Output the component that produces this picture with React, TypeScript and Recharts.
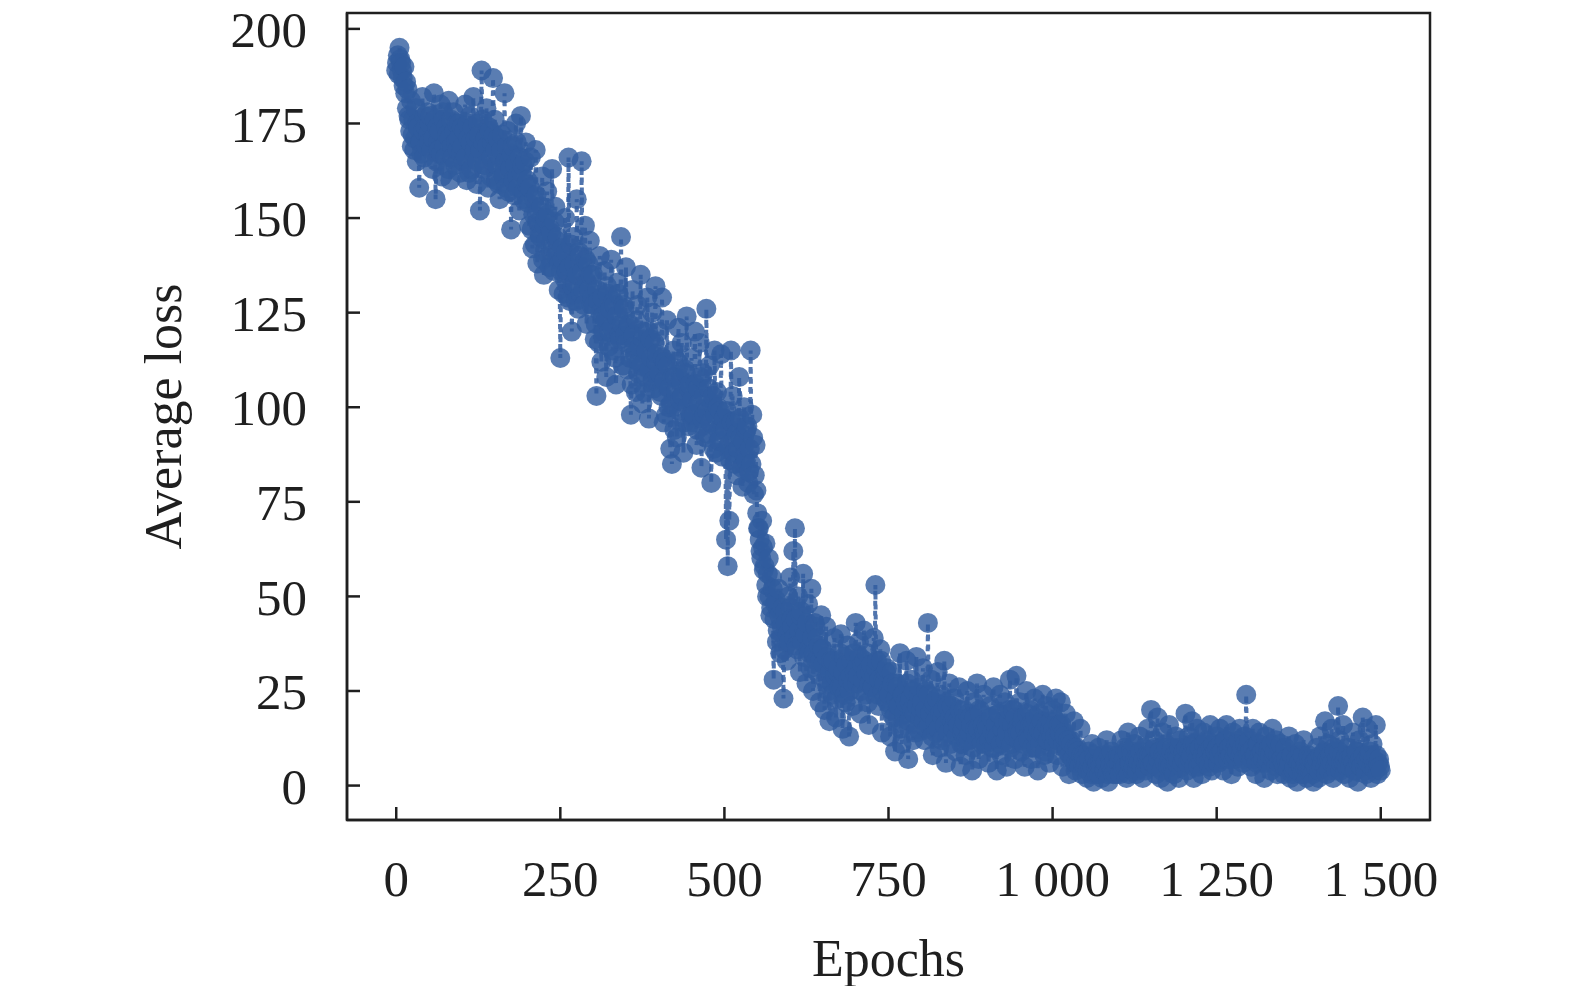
import React from "react";
import {
  ScatterChart,
  Scatter,
  XAxis,
  YAxis,
  ReferenceArea,
} from "recharts";

// average loss: one sample on every 2.5-epoch mark,
// plus a second sample half-way between marks (the cloud is ~1500 points)
const EPOCH_STEP = 2.5;

const lossPlateau = [
  189, 193, 195, 191, 187, 190, 186, 184, 176, 181, 172, 168, 179, 175, 158, 170, 182, 166, 174, 178,
  170, 177, 163, 183, 155, 174, 168, 180, 161, 176, 166, 172, 181, 160, 169, 178, 164, 175, 171, 162,
  174, 165, 180, 160, 171, 177, 163, 182, 168, 159, 175, 152, 189, 170, 164, 179, 158, 173, 166, 187,
  176, 160, 171, 155, 168, 162, 183, 158, 173, 165, 147, 169, 156, 175, 161, 152, 177, 164, 157, 170,
];

const lossDecline = [
  160, 148, 166, 142, 155, 168, 138, 152, 145, 161, 135, 150, 157, 140, 147, 163, 136, 153, 144, 131,
  113, 142, 130, 150, 136, 166, 128, 120, 145, 133, 155, 126, 140, 165, 131, 148, 122, 138, 144, 127,
  135, 118, 103, 128, 140, 112, 124, 136, 108, 130, 120, 139, 115, 127, 106, 133, 119, 145, 111, 126,
  137, 110, 122, 98, 131, 116, 104, 127, 112, 135, 101, 120, 108, 129, 97, 118, 125, 105, 132, 114,
  120, 104, 129, 96, 112, 123, 100, 89, 85, 115, 108, 92, 121, 102, 117, 88, 110, 124, 95, 106,
  113, 96, 120, 90, 105, 117, 84, 109, 98, 126, 93, 111, 80, 103, 115, 88, 100, 91, 114, 95,
  97, 65, 58, 70, 115, 103, 88, 96, 82, 108, 92, 79, 100, 86, 95, 83, 115, 98, 77, 90,
];

const lossDrop = [
  72, 68, 62, 70, 57, 64, 50, 60, 45, 55, 28, 48, 38, 52, 35, 42, 23, 46, 33, 50,
  55, 44, 62, 68, 37, 50, 30, 46, 56, 41, 27, 48, 35, 52, 25, 43, 33, 39, 22, 45,
  36, 20, 42, 28, 17, 33, 24, 39, 18, 30, 26, 40, 15, 34, 22, 37, 13, 29, 21, 35,
  43, 27, 38, 19, 32, 41, 24, 35, 16, 30, 26, 39, 53, 33, 21, 36, 14, 28, 23, 31,
  25, 13, 30, 18, 9, 27, 21, 35, 11, 24, 16, 33, 7, 22, 28, 12, 19, 34, 15, 26,
];

const lossTail = [
  20, 31, 12, 25, 43, 16, 28, 8, 22, 14, 30, 10, 24, 18, 33, 6, 21, 27, 11, 17,
  23, 9, 17, 26, 5, 14, 20, 8, 25, 12, 18, 4, 22, 15, 27, 7, 19, 11, 24, 13,
  16, 6, 21, 10, 26, 13, 4, 19, 24, 8, 15, 22, 5, 17, 28, 11, 20, 7, 29, 14,
  22, 9, 18, 5, 25, 13, 20, 7, 16, 23, 10, 4, 19, 14, 24, 8, 21, 12, 6, 17,
  20, 11, 23, 8, 16, 22, 5, 14, 19, 9, 3, 12, 7, 17, 4, 10, 6, 15, 3, 8,
  5, 2, 9, 4, 11, 1, 7, 3, 10, 6, 2, 8, 4, 12, 1, 6, 9, 3, 7, 5,
  8, 3, 12, 5, 10, 2, 14, 6, 9, 4, 11, 3, 7, 13, 5, 2, 10, 6, 15, 8,
  20, 6, 12, 3, 18, 9, 2, 14, 7, 11, 1, 16, 5, 10, 3, 13, 8, 2, 12, 6,
  9, 19, 4, 13, 7, 17, 2, 11, 15, 5, 10, 3, 14, 8, 12, 6, 16, 4, 11, 9,
  13, 6, 15, 9, 4, 12, 16, 7, 10, 3, 14, 8, 11, 5, 15, 9, 6, 13, 24, 10,
  12, 5, 15, 8, 3, 11, 14, 6, 9, 2, 13, 7, 10, 4, 15, 8, 12, 3, 6, 11,
  7, 3, 10, 5, 13, 2, 8, 4, 11, 1, 6, 9, 3, 12, 5, 2, 8, 4, 7, 1,
  6, 10, 2, 13, 5, 8, 17, 3, 11, 7, 15, 2, 9, 4, 21, 12, 6, 16, 3, 8,
  10, 2, 7, 14, 4, 9, 1, 12, 5, 18, 6, 3, 15, 8, 2, 11, 5, 16, 3, 7,
  4,
];

// half-step samples (epoch + 1.25)
const lossPlateauMid = [
  191, 188, 192, 189, 185, 183, 179, 177, 173, 169, 176, 171, 165, 174, 170, 167, 173, 177, 169, 172,
  175, 168, 171, 176, 165, 170, 173, 167, 178, 169, 174, 163, 171, 176, 166, 173, 170, 168, 175, 167,
  169, 173, 166, 175, 162, 170, 174, 167, 171, 165, 172, 168, 176, 163, 171, 169, 174, 161, 170, 172,
  168, 164, 159, 166, 172, 161, 165, 169, 157, 163, 167, 160, 164, 170, 158, 166, 162, 155, 165, 159,
];

const lossDeclineMid = [
  154, 158, 147, 151, 143, 156, 149, 146, 153, 139, 148, 144, 151, 137, 146, 142, 149, 140, 145, 138,
  136, 139, 134, 141, 129, 137, 143, 132, 138, 128, 135, 141, 130, 136, 127, 139, 133, 131, 135, 129,
  127, 122, 131, 117, 125, 129, 120, 123, 132, 116, 126, 121, 128, 113, 124, 130, 118, 122, 127, 119,
  117, 121, 113, 106, 119, 114, 123, 109, 116, 111, 118, 104, 115, 120, 110, 113, 107, 117, 112, 108,
  109, 103, 113, 107, 98, 111, 105, 101, 108, 94, 104, 112, 99, 107, 103, 96, 109, 100, 105, 98,
  102, 98, 106, 94, 101, 108, 97, 103, 92, 99, 105, 96, 101, 89, 98, 104, 94, 99, 87, 97,
  94, 99, 90, 86, 96, 91, 85, 93, 89, 97, 84, 91, 87, 94, 80, 89, 85, 92, 82, 78,
];

const lossDropMid = [
  68, 65, 60, 63, 58, 53, 56, 50, 47, 52, 44, 49, 41, 45, 39, 47, 36, 43, 40, 38,
  47, 42, 39, 44, 36, 41, 45, 38, 34, 40, 43, 36, 31, 39, 35, 42, 30, 37, 33, 36,
  32, 28, 34, 25, 30, 27, 33, 29, 23, 31, 35, 26, 30, 24, 32, 28, 25, 33, 27, 30,
  31, 29, 34, 25, 28, 33, 30, 22, 27, 32, 26, 29, 31, 24, 28, 33, 25, 27, 30, 22,
  24, 20, 27, 18, 23, 26, 21, 15, 24, 19, 22, 27, 17, 23, 20, 25, 14, 21, 24, 18,
];

const lossTailMid = [
  22, 17, 20, 15, 24, 19, 13, 21, 17, 23, 15, 19, 12, 20, 16, 22, 14, 18, 21, 15,
  18, 13, 16, 20, 11, 15, 17, 12, 19, 14, 16, 10, 18, 13, 15, 20, 12, 16, 14, 11,
  15, 12, 18, 14, 10, 16, 13, 19, 11, 15, 17, 12, 14, 20, 10, 16, 13, 18, 15, 12,
  14, 17, 11, 15, 19, 12, 16, 10, 14, 18, 13, 15, 11, 17, 14, 9, 16, 12, 15, 13,
  15, 13, 17, 12, 14, 16, 11, 13, 10, 12, 8, 11, 7, 10, 6, 9, 5, 8, 6, 7,
  6, 4, 7, 3, 5, 8, 4, 6, 3, 5, 7, 4, 6, 3, 8, 5, 4, 6, 3, 5,
  6, 8, 4, 7, 5, 9, 3, 6, 8, 5, 7, 4, 6, 9, 5, 7, 4, 8, 6, 5,
  8, 6, 10, 5, 7, 9, 4, 8, 6, 10, 5, 7, 9, 4, 8, 6, 7, 10, 5, 8,
  7, 10, 6, 9, 8, 11, 5, 9, 7, 10, 6, 8, 11, 7, 9, 5, 10, 8, 6, 9,
  10, 8, 11, 9, 7, 12, 9, 10, 8, 11, 7, 10, 9, 12, 8, 10, 7, 11, 9, 8,
  9, 7, 10, 8, 6, 11, 8, 9, 7, 10, 6, 9, 8, 11, 7, 9, 5, 8, 10, 7,
  6, 5, 7, 4, 6, 8, 3, 5, 7, 4, 6, 5, 8, 3, 6, 4, 7, 5, 3, 6,
  5, 7, 4, 8, 6, 9, 5, 7, 4, 8, 6, 10, 5, 7, 9, 4, 8, 6, 7, 5,
  7, 5, 8, 6, 4, 9, 6, 7, 5, 8, 4, 7, 6, 9, 5, 7, 4, 8, 6, 5,
];

const xTicks = [0, 250, 500, 750, 1000, 1250, 1500];
const yTicks = [0, 25, 50, 75, 100, 125, 150, 175, 200];

const X_DOMAIN: [number, number] = [-75, 1575];
const Y_DOMAIN: [number, number] = [-9.1, 204.2];

const onStep = [...lossPlateau, ...lossDecline, ...lossDrop, ...lossTail];
const halfStep = [...lossPlateauMid, ...lossDeclineMid, ...lossDropMid, ...lossTailMid];

const data: { epoch: number; loss: number }[] = [];
onStep.forEach((loss, i) => {
  data.push({ epoch: i * EPOCH_STEP, loss });
  if (i < halfStep.length) {
    data.push({ epoch: i * EPOCH_STEP + EPOCH_STEP / 2, loss: halfStep[i] });
  }
});

const BLUE = "#315c9f";
const INK = "#1f1f1f";
const FONT = "'Liberation Serif', 'Times New Roman', serif";

const fmtThousands = (v: number) =>
  v >= 1000 ? `${Math.floor(v / 1000)} ${String(v % 1000).padStart(3, "0")}` : String(v);

const Dot = (props: any) => {
  const { cx, cy } = props;
  if (cx == null || cy == null) return null;
  return <circle cx={cx} cy={cy} r={10} fill={BLUE} fillOpacity={0.8} />;
};

export default function App() {
  const tickStyle = { fontFamily: FONT, fontSize: 51, fill: INK };
  // pull the svg up over the body margin so the top tick label has room
  return (
    <div style={{ marginTop: -8 }}>
      <ScatterChart
        width={1559}
        height={986}
        margin={{ top: 13, right: 137, bottom: 0, left: 0 }}
      >
        <XAxis
          type="number"
          dataKey="epoch"
          domain={X_DOMAIN}
          ticks={xTicks}
          tickFormatter={fmtThousands}
          height={166}
          allowDataOverflow
          axisLine={{ stroke: INK, strokeWidth: 2.5 }}
          tickLine={{ stroke: INK, strokeWidth: 2.5 }}
          tickSize={-13}
          tickMargin={53}
          tick={tickStyle}
          interval={0}
          label={{
            value: "Epochs",
            position: "insideBottom",
            offset: 10,
            style: { fontFamily: FONT, fontSize: 52, fill: INK },
          }}
        />
        <YAxis
          type="number"
          dataKey="loss"
          domain={Y_DOMAIN}
          ticks={yTicks}
          width={339}
          allowDataOverflow
          axisLine={{ stroke: INK, strokeWidth: 2.5 }}
          tickLine={{ stroke: INK, strokeWidth: 2.5 }}
          tickSize={-13}
          tickMargin={53}
          tick={tickStyle}
          interval={0}
          label={{
            value: "Average loss",
            angle: -90,
            position: "center",
            dx: -15,
            style: { fontFamily: FONT, fontSize: 52, fill: INK, textAnchor: "middle" },
          }}
        />
        <ReferenceArea
          x1={X_DOMAIN[0]}
          x2={X_DOMAIN[1]}
          y1={Y_DOMAIN[0]}
          y2={Y_DOMAIN[1]}
          fill="none"
          stroke={INK}
          strokeWidth={2.5}
          ifOverflow="visible"
        />
        <Scatter
          data={data}
          shape={Dot}
          line={{ stroke: BLUE, strokeWidth: 4, strokeDasharray: "5 5", strokeOpacity: 0.85 }}
          lineType="joint"
          isAnimationActive={false}
        />
      </ScatterChart>
    </div>
  );
}
